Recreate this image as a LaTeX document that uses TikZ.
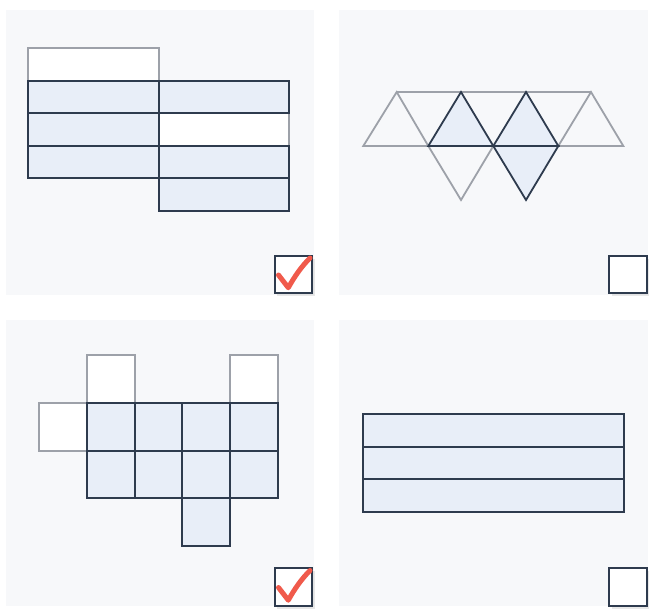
\documentclass[tikz,border=0pt]{standalone}
\usetikzlibrary{shadows,calc}
\definecolor{panelbg}{HTML}{F7F8FA}
\definecolor{cellblue}{HTML}{E8EEF8}
\definecolor{darkline}{HTML}{2E3B4E}
\definecolor{grayline}{HTML}{9DA1A9}
\definecolor{checkred}{HTML}{F05A4B}
\begin{document}
\begin{tikzpicture}[x=1pt,y=-1pt,
  panel/.style={fill=panelbg},
  opencell/.style={fill=white, draw=grayline, line width=1.8pt},
  bluecell/.style={fill=cellblue, draw=darkline, line width=1.8pt},
  cbox/.style={fill=white, draw=darkline, line width=2.4pt, minimum size=37.5pt, inner sep=0pt,
    drop shadow={opacity=0.18, shadow xshift=2.5pt, shadow yshift=-3pt}},
  tick/.style={draw=checkred, line width=5pt, line cap=round, line join=round}]
\fill[white] (0,0) rectangle (653,613);
\useasboundingbox (0,0) rectangle (653,613);
% panels
\fill[panel] (6,10) rectangle (314,295);
\fill[panel] (339,10) rectangle (648,295);
\fill[panel] (6,320) rectangle (314,606);
\fill[panel] (339,320) rectangle (648,606);

% ---- top-left: rectangles
\draw[opencell] (28,48) rectangle (159,81);
\draw[opencell] (159,113) rectangle (289,146);
\foreach \y/\yy in {81/113,113/146,146/178}{\draw[bluecell] (28,\y) rectangle (159,\yy);}
\foreach \y/\yy in {81/113,146/178,178/211}{\draw[bluecell] (159,\y) rectangle (289,\yy);}

% ---- top-right: triangles
\coordinate (t1) at (396.7,92); \coordinate (t2) at (461,92);
\coordinate (t3) at (526,92);   \coordinate (t4) at (591,92);
\coordinate (m0) at (363.3,146); \coordinate (m1) at (428.3,146);
\coordinate (m2) at (493.3,146); \coordinate (m3) at (558.3,146);
\coordinate (m4) at (623.3,146);
\coordinate (b1) at (461,200); \coordinate (b2) at (526,200);
\draw[opencell, fill=none, line join=miter] (m0) -- (t1) -- (m1) -- cycle;
\draw[opencell, fill=none] (m3) -- (t4) -- (m4) -- cycle;
\draw[opencell, fill=none] (t1) -- (t4);
\draw[opencell, fill=none] (m1) -- (b1) -- (m2) -- cycle;
\draw[bluecell, line join=miter] (m1) -- (t2) -- (m2) -- cycle;
\draw[bluecell, line join=miter] (m2) -- (t3) -- (m3) -- cycle;
\draw[bluecell, line join=miter] (m2) -- (b2) -- (m3) -- cycle;

% ---- bottom-left: squares
\draw[opencell] (87.3,355) rectangle (135,403.3);
\draw[opencell] (230,355) rectangle (277.7,403.3);
\draw[opencell] (39.3,403.3) rectangle (87.3,450.7);
\foreach \x/\xx in {87.3/135,135/182.3,182.3/230,230/277.7}{
  \draw[bluecell] (\x,403.3) rectangle (\xx,450.7);
  \draw[bluecell] (\x,450.7) rectangle (\xx,498.3);}
\draw[bluecell] (182.3,498.3) rectangle (230,546);

% ---- bottom-right: strips
\draw[bluecell] (363.3,414.3) rectangle (624,446.7);
\draw[bluecell] (363.3,446.7) rectangle (624,479.3);
\draw[bluecell] (363.3,479.3) rectangle (624,512.3);

% ---- checkboxes
\node[cbox] (cb1) at (293.5,274.5) {};
\node[cbox] (cb2) at (628,274.5) {};
\node[cbox] (cb3) at (293.5,587) {};
\node[cbox] (cb4) at (628,587) {};
\draw[tick] ($(cb1.center)+(-15,0.5)$) -- ($(cb1.center)+(-5.2,13.2)$)
  .. controls ($(cb1.center)+(1,2)$) and ($(cb1.center)+(8,-8)$) .. ($(cb1.center)+(16.5,-16.5)$);
\draw[tick] ($(cb3.center)+(-15,0.5)$) -- ($(cb3.center)+(-5.2,13.2)$)
  .. controls ($(cb3.center)+(1,2)$) and ($(cb3.center)+(8,-8)$) .. ($(cb3.center)+(16.5,-16.5)$);
\end{tikzpicture}
\end{document}
